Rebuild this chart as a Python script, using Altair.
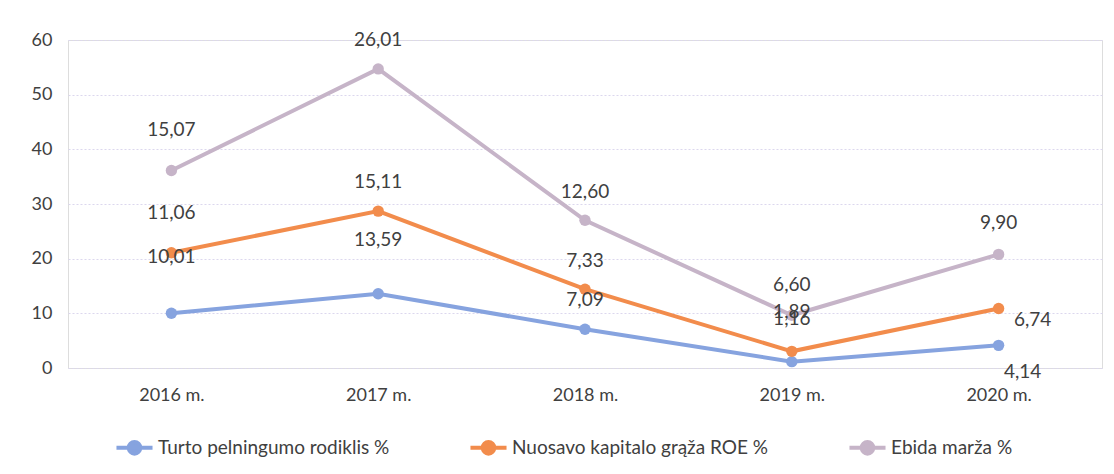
import altair as alt
import pandas as pd

years = ["2016 m.", "2017 m.", "2018 m.", "2019 m.", "2020 m."]
series = ["Turto pelningumo rodiklis %", "Nuosavo kapitalo grąža ROE %", "Ebida marža %"]
turto = [10.01, 13.59, 7.09, 1.16, 4.14]
roe = [11.06, 15.11, 7.33, 1.89, 6.74]
ebida = [15.07, 26.01, 12.60, 6.60, 9.90]
colors = ["#86a3df", "#f28c4c", "#c6b4c8"]

# label placement (pixels) per series / year
label_dx = [[0, 0, 0, 0, 24], [0, 0, 0, 0, 34], [0, 0, 0, 0, 0]]
label_dy = [[-56, -54, -29, -43, 27], [-40, -29, -28, -39, 11], [-40, -29, -28, -30, -31]]

rows = []
for si, (name, vals) in enumerate(zip(series, [turto, roe, ebida])):
    for yi, (yr, v) in enumerate(zip(years, vals)):
        rows.append({"year": yr, "series": name, "order": si, "value": v,
                     "pos": f"{label_dx[si][yi]},{label_dy[si][yi]}"})
df = pd.DataFrame(rows)

FONT = "Lato"
TXT = "#404040"

base = alt.Chart(df).transform_stack(
    stack="value", groupby=["year"], as_=["y0", "y1"], sort=[{"field": "order"}]
)

x = alt.X("year:N", sort=years, title=None,
          scale=alt.Scale(paddingInner=1, paddingOuter=0.5),
          axis=alt.Axis(labelAngle=0, ticks=False, domain=False, grid=False,
                        labelFontSize=18, labelColor=TXT, labelFont=FONT, labelPadding=18))
y = alt.Y("y1:Q", title=None,
          scale=alt.Scale(domain=[0, 60], nice=False),
          axis=alt.Axis(values=[0, 10, 20, 30, 40, 50, 60], ticks=False, domain=False,
                        gridColor="#dcd7ee", gridDash=[2, 2], gridWidth=1.2,
                        labelFontSize=18, labelColor=TXT, labelFont=FONT, labelPadding=16))
color = alt.Color("series:N", sort=series,
                  scale=alt.Scale(domain=series, range=colors),
                  legend=alt.Legend(title=None, orient="none", direction="horizontal",
                                    legendX=46, legendY=387, columns=3, columnPadding=72,
                                    symbolType="M-1,0H1M0.32,0A0.32,0.32,0,1,1,-0.32,0A0.32,0.32,0,1,1,0.32,0Z",
                                    symbolSize=1300, symbolStrokeWidth=4,
                                    labelFontSize=19, labelColor=TXT, labelFont=FONT,
                                    labelOffset=3, labelLimit=400))

lines = base.mark_line(strokeWidth=4).encode(x=x, y=y, color=color, order="year:N")
points = base.mark_point(filled=True, size=130, opacity=1).encode(
    x=x, y=y, color=alt.Color("series:N", sort=series, scale=alt.Scale(domain=series, range=colors), legend=None))

layers = [lines, points]
for pos in df["pos"].unique():
    dx, dy = [int(p) for p in pos.split(",")]
    layers.append(
        base.transform_filter(alt.datum.pos == pos)
        .transform_calculate(lbl="replace(format(datum.value, '.2f'), '.', ',')")
        .mark_text(dx=dx, dy=dy, fontSize=19, font=FONT, color=TXT, align="center", baseline="middle")
        .encode(x=x, y=y, text="lbl:N")
    )

chart = alt.layer(*layers).properties(
    width=1034, height=328,
    autosize=alt.AutoSizeParams(type="none"),
    padding={"left": 60, "top": 32, "right": 4, "bottom": 96},
).configure_view(stroke=None).configure(background="white")

chart.save("out.html", embed_options={"renderer": "svg", "actions": False})
